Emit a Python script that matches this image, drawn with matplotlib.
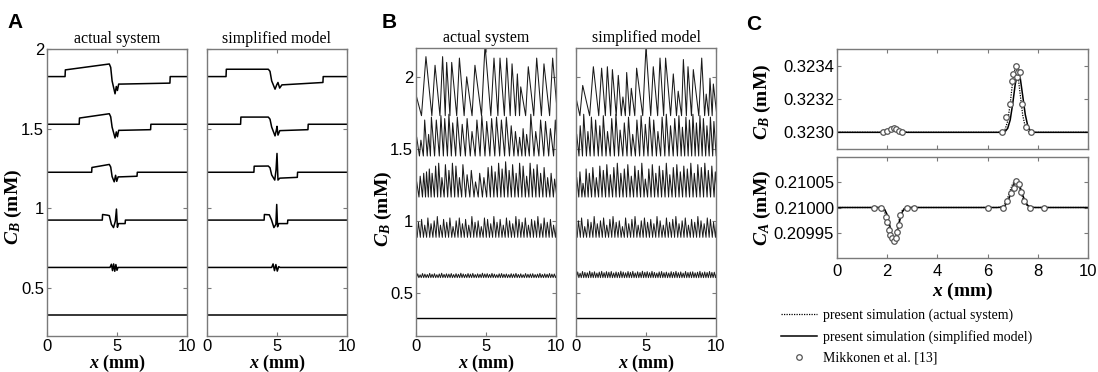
import numpy as np
import matplotlib
matplotlib.use('Agg')
import matplotlib.pyplot as plt
from matplotlib.lines import Line2D

plt.rcParams['font.family'] = 'Liberation Sans'
plt.rcParams['mathtext.fontset'] = 'custom'
plt.rcParams['mathtext.rm'] = 'Liberation Serif:bold'
plt.rcParams['mathtext.it'] = 'Liberation Serif:italic:bold'
plt.rcParams['mathtext.bf'] = 'Liberation Serif:bold'

SPINE = '#7a7a7a'

# ---------------- panel A: traces (x in mm, C_B in mM) ----------------
a_act_x = [
    [0, 10],
    [0, 4.5, 4.6, 4.68, 4.76, 4.84, 4.92, 5.0, 5.07, 10],
    [0, 3.95, 3.97, 4.3, 4.45, 4.6, 4.75, 4.88, 4.96, 5.03, 5.1, 5.58, 5.6, 10],
    [0, 3.19, 3.21, 4.45, 4.55, 4.65, 4.8, 4.9, 4.98, 5.08, 5.2, 6.43, 6.45, 10],
    [0, 2.3, 2.32, 4.45, 4.55, 4.65, 4.86, 4.95, 5.03, 5.12, 5.3, 7.4, 7.42, 10],
    [0, 1.29, 1.31, 4.45, 4.55, 4.65, 4.86, 4.95, 5.03, 5.12, 5.3, 8.78, 8.8, 10],
]
a_act_y = [
    [0.331, 0.331],
    [0.63, 0.63, 0.65, 0.61, 0.652, 0.606, 0.648, 0.612, 0.63, 0.63],
    [0.927, 0.927, 0.962, 0.958, 0.955, 0.90, 0.88, 0.92, 0.996, 0.882, 0.905, 0.905, 0.927, 0.927],
    [1.227, 1.227, 1.257, 1.276, 1.26, 1.20, 1.167, 1.208, 1.17, 1.198, 1.198, 1.202, 1.227, 1.227],
    [1.528, 1.528, 1.567, 1.594, 1.575, 1.51, 1.442, 1.48, 1.45, 1.49, 1.49, 1.494, 1.528, 1.528],
    [1.827, 1.827, 1.869, 1.906, 1.885, 1.80, 1.719, 1.765, 1.74, 1.78, 1.78, 1.786, 1.827, 1.827],
]
a_sim_x = [
    [0, 10],
    [0, 4.62, 4.72, 4.82, 4.92, 5.02, 5.12, 5.22, 10],
    [0, 4.08, 4.1, 4.45, 4.6, 4.78, 4.92, 4.98, 5.04, 5.12, 5.75, 5.77, 10],
    [0, 3.35, 3.37, 4.38, 4.5, 4.62, 4.84, 4.93, 5.0, 5.07, 5.2, 6.45, 6.47, 10],
    [0, 2.4, 2.42, 4.38, 4.5, 4.62, 4.86, 4.95, 5.0, 5.07, 5.2, 7.21, 7.23, 10],
    [0, 1.36, 1.38, 4.38, 4.5, 4.62, 4.86, 4.98, 5.07, 5.19, 5.35, 8.28, 8.3, 10],
]
a_sim_y = [
    [0.331, 0.331],
    [0.63, 0.63, 0.652, 0.61, 0.648, 0.607, 0.635, 0.63, 0.63],
    [0.927, 0.927, 0.962, 0.96, 0.93, 0.88, 0.9, 1.025, 0.885, 0.905, 0.905, 0.927, 0.927],
    [1.227, 1.227, 1.265, 1.266, 1.255, 1.21, 1.178, 1.24, 1.345, 1.178, 1.19, 1.195, 1.227, 1.227],
    [1.528, 1.528, 1.573, 1.573, 1.56, 1.51, 1.455, 1.49, 1.515, 1.46, 1.488, 1.494, 1.528, 1.528],
    [1.827, 1.827, 1.873, 1.873, 1.86, 1.80, 1.748, 1.775, 1.79, 1.755, 1.775, 1.79, 1.827, 1.827],
]

# ---------------- panel B: spike peaks (position, height) and trough level ----------------
b_base = [0.323, 0.605, 0.885, 1.165, 1.45, 1.73]

b5_act_x = [-0.2, 0.71, 1.36, 1.9, 2.19, 2.55, 3.1, 3.62, 4.21, 4.93, 5.57, 6.0, 6.48, 6.86, 7.24,
            7.48, 8.02, 8.62, 9.14, 9.76, 10.3]
b5_act_h = [1.95, 2.14, 2.08, 2.14, 2.10, 2.10, 2.13, 2.0, 2.08, 2.22, 2.13, 2.13, 2.13, 2.09, 2.02,
            1.93, 2.07, 2.13, 2.09, 2.13, 2.0]
b4_act_x = [0.05, 0.35, 0.62, 0.9, 1.1, 1.45, 1.78, 2.05, 2.35, 2.62, 2.95, 3.3, 3.65, 4.0, 4.35, 4.7,
            5.05, 5.4, 5.75, 6.1, 6.45, 6.8, 7.1, 7.4, 7.65, 7.9, 8.2, 8.55, 8.9, 9.25, 9.6, 9.95, 10.25]
b4_act_h = [1.58, 1.56, 1.70, 1.60, 1.72, 1.70, 1.73, 1.71, 1.74, 1.68, 1.72, 1.67, 1.71, 1.62, 1.70,
            1.73, 1.69, 1.71, 1.72, 1.70, 1.72, 1.66, 1.62, 1.58, 1.64, 1.60, 1.74, 1.62, 1.70, 1.69,
            1.64, 1.70, 1.66]
b3_act_x = [0.05, 0.3, 0.55, 0.75, 0.95, 1.15, 1.4, 1.62, 1.85, 2.1, 2.35, 2.6, 2.85, 3.1, 3.35, 3.65,
            3.95, 4.25, 4.55, 4.85, 5.15, 5.4, 5.65, 5.9, 6.15, 6.4, 6.65, 6.9, 7.15, 7.4, 7.65, 7.9,
            8.15, 8.4, 8.65, 8.9, 9.15, 9.4, 9.65, 9.9, 10.15]
b3_act_h = [1.27, 1.31, 1.33, 1.34, 1.36, 1.33, 1.38, 1.40, 1.30, 1.39, 1.35, 1.40, 1.38, 1.30, 1.39,
            1.32, 1.35, 1.27, 1.33, 1.30, 1.37, 1.38, 1.34, 1.40, 1.36, 1.41, 1.35, 1.39, 1.33, 1.40,
            1.38, 1.31, 1.40, 1.36, 1.39, 1.33, 1.37, 1.30, 1.33, 1.29, 1.32]
b2_act_h = [0.96, 0.99, 1.01, 0.97, 1.02, 0.98, 1.00, 1.03, 0.97, 1.01, 0.99, 1.02, 0.96, 1.00, 1.02,
            0.98, 1.01, 0.97, 1.03, 0.99, 1.00, 0.96, 1.02, 1.01, 0.98, 1.03, 0.99, 1.01, 0.97, 1.02,
            1.00, 0.98, 1.03, 1.01, 0.99, 1.02, 0.97, 1.01, 1.00, 1.03, 0.98, 1.02, 0.99, 1.01, 0.97, 1.00]
b1_act_h = [0.628, 0.632, 0.625, 0.634, 0.630, 0.627, 0.635, 0.629, 0.633, 0.626, 0.631, 0.636, 0.628,
            0.632, 0.630, 0.634, 0.627, 0.633, 0.629, 0.636, 0.631, 0.628, 0.634, 0.630, 0.635, 0.627,
            0.632, 0.629, 0.636, 0.631, 0.633, 0.628, 0.635, 0.630, 0.626, 0.632, 0.634, 0.629, 0.631,
            0.627, 0.633, 0.630, 0.635, 0.628, 0.632, 0.626, 0.634, 0.629, 0.631, 0.633, 0.627, 0.630,
            0.635, 0.628, 0.632, 0.629, 0.634, 0.630, 0.631, 0.628]

b5_sim_x = [-0.1, 0.48, 1.24, 1.83, 2.24, 2.6, 3.02, 3.35, 3.62, 3.95, 4.33, 5.0, 5.52, 6.0, 6.4, 6.95,
            7.3, 7.67, 8.0, 8.38, 8.98, 9.3, 9.57, 9.81, 10.2]
b5_sim_h = [1.90, 1.94, 2.07, 2.06, 2.07, 2.05, 2.01, 1.86, 2.03, 1.92, 2.06, 2.21, 2.07, 2.13, 2.13,
            2.02, 1.90, 2.12, 2.07, 2.05, 2.13, 1.88, 1.99, 1.95, 1.9]
b4_sim_x = [0.05, 0.3, 0.55, 0.85, 1.1, 1.4, 1.7, 1.95, 2.25, 2.55, 2.85, 3.15, 3.45, 3.75, 4.05, 4.35,
            4.65, 4.95, 5.25, 5.55, 5.85, 6.15, 6.45, 6.75, 7.05, 7.35, 7.6, 7.85, 8.1, 8.35, 8.6, 8.85,
            9.1, 9.35, 9.6, 9.85, 10.1]
b4_sim_h = [1.60, 1.66, 1.74, 1.62, 1.72, 1.70, 1.66, 1.73, 1.62, 1.71, 1.74, 1.63, 1.68, 1.72, 1.60,
            1.70, 1.73, 1.67, 1.72, 1.70, 1.62, 1.72, 1.74, 1.66, 1.71, 1.73, 1.65, 1.72, 1.70, 1.74,
            1.68, 1.73, 1.71, 1.66, 1.72, 1.69, 1.7]
b3_sim_x = [0.05, 0.28, 0.5, 0.72, 0.95, 1.2, 1.45, 1.7, 1.95, 2.2, 2.45, 2.7, 2.95, 3.2, 3.45, 3.7,
            3.95, 4.2, 4.45, 4.7, 4.95, 5.2, 5.45, 5.7, 5.95, 6.2, 6.45, 6.7, 6.95, 7.2, 7.45, 7.7,
            7.95, 8.2, 8.45, 8.7, 8.95, 9.2, 9.45, 9.7, 9.95, 10.2]
b3_sim_h = [1.30, 1.34, 1.26, 1.36, 1.33, 1.37, 1.30, 1.38, 1.35, 1.39, 1.32, 1.37, 1.40, 1.33, 1.36,
            1.39, 1.31, 1.38, 1.35, 1.40, 1.29, 1.36, 1.39, 1.33, 1.38, 1.35, 1.40, 1.32, 1.37, 1.39,
            1.34, 1.38, 1.36, 1.40, 1.33, 1.39, 1.37, 1.40, 1.35, 1.38, 1.34, 1.3]
b2_sim_h = [0.97, 1.00, 1.02, 0.96, 1.01, 0.99, 1.03, 0.98, 1.00, 1.02, 0.97, 1.01, 1.03, 0.99, 1.00,
            0.96, 1.02, 0.98, 1.01, 1.03, 0.97, 1.00, 1.02, 0.99, 1.01, 0.98, 1.03, 1.00, 0.97, 1.02,
            0.99, 1.01, 1.03, 0.98, 1.00, 1.02, 0.97, 1.01, 0.99, 1.03, 1.00, 0.98, 1.02, 1.01, 0.99, 1.02]
b1_sim_h = [0.640, 0.645, 0.636, 0.648, 0.642, 0.639, 0.650, 0.641, 0.646, 0.637, 0.644, 0.649, 0.640,
            0.647, 0.643, 0.648, 0.638, 0.645, 0.641, 0.650, 0.644, 0.639, 0.648, 0.642, 0.649, 0.638,
            0.646, 0.641, 0.650, 0.643, 0.647, 0.640, 0.649, 0.642, 0.637, 0.645, 0.648, 0.640, 0.644,
            0.638, 0.647, 0.642, 0.649, 0.640, 0.645, 0.637, 0.648, 0.641, 0.644, 0.646, 0.639, 0.643,
            0.649, 0.640, 0.645, 0.641, 0.648, 0.642, 0.643, 0.640]

# ---------------- panel C ----------------
cb_base = 0.3230   # mM, deviations below in 1e-4 mM
cb_sol_x = [0, 1.7, 1.8, 1.9, 2.0, 2.1, 2.2, 2.3, 2.4, 2.5, 2.6, 2.7, 2.8,
            6.5, 6.6, 6.7, 6.8, 6.9, 7.0, 7.1, 7.2, 7.3, 7.4, 7.5, 7.6, 7.7, 7.8, 7.9, 10]
cb_sol_d = [0, 0, 0.02, 0.05, 0.11, 0.19, 0.24, 0.24, 0.19, 0.11, 0.05, 0.02, 0,
            0, 0.01, 0.05, 0.24, 0.74, 1.71, 2.88, 3.58, 3.26, 2.18, 1.07, 0.39, 0.10, 0.02, 0, 0]
cb_dot_x = [0, 1.7, 1.8, 1.9, 2.0, 2.1, 2.2, 2.3, 2.4, 2.5, 2.6, 2.7, 2.8,
            6.4, 6.5, 6.6, 6.7, 6.8, 6.9, 7.0, 7.1, 7.2, 7.3, 7.4, 7.5, 7.6, 7.7, 7.8, 10]
cb_dot_d = [0, 0, 0.02, 0.06, 0.12, 0.20, 0.25, 0.23, 0.17, 0.09, 0.04, 0.01, 0,
            0, 0.005, 0.04, 0.19, 0.67, 1.71, 3.08, 3.92, 3.54, 2.26, 1.02, 0.33, 0.07, 0.01, 0, 0]
cb_ref_x = [1.85, 1.99, 2.15, 2.26, 2.35, 2.46, 2.58,
            6.57, 6.72, 6.91, 6.97, 7.01, 7.12, 7.17, 7.21, 7.28, 7.37, 7.54, 7.74]
cb_ref_d = [0, 0.08, 0.2, 0.28, 0.2, 0.1, 0,
            0, 0.9, 1.7, 3.1, 3.5, 4.0, 3.3, 3.6, 3.6, 1.7, 0.3, 0]

ca_base = 0.21000  # mM, deviations below in 1e-5 mM
ca_sol_x = [0, 1.6, 1.7, 1.8, 1.9, 2.0, 2.1, 2.2, 2.3, 2.4, 2.5, 2.6, 2.7, 2.8, 2.9,
            6.4, 6.5, 6.6, 6.7, 6.8, 6.9, 7.0, 7.1, 7.2, 7.3, 7.4, 7.5, 7.6, 7.7, 7.8, 7.9, 10]
ca_sol_d = [0, 0, -0.01, -0.07, -0.39, -1.43, -3.5, -5.8, -6.55, -4.98, -2.57, -0.89, -0.21, -0.03, 0,
            0, 0.03, 0.12, 0.42, 1.15, 2.43, 4.0, 5.14, 5.14, 4.0, 2.43, 1.15, 0.42, 0.12, 0.03, 0, 0]
ca_dot_d = [0, 0, -0.03, -0.2, -0.9, -2.6, -4.9, -6.4, -6.2, -4.2, -1.9, -0.55, -0.1, -0.01, 0,
            0, 0.06, 0.25, 0.8, 1.9, 3.4, 4.7, 5.3, 4.8, 3.4, 1.9, 0.8, 0.25, 0.06, 0.01, 0, 0]
ca_ref_x = [1.46, 1.75, 1.94, 1.99, 2.06, 2.12, 2.18, 2.26, 2.35, 2.39, 2.46, 2.52, 2.79, 3.08,
            6.02, 6.61, 6.77, 6.95, 7.04, 7.14, 7.25, 7.34, 7.46, 7.70, 8.26]
ca_ref_d = [0, 0, -1.8, -2.8, -4.5, -5.5, -6.0, -6.6, -6.0, -4.8, -3.5, -1.5, 0, 0,
            0, 0, 1.3, 2.9, 3.9, 5.3, 4.7, 3.0, 1.2, 0, 0]


def spike_line(px, ph, base, f=0.65):
    # peaks joined through troughs at the base level
    xs, ys = [px[0]], [ph[0]]
    for i in range(1, len(px)):
        xs += [px[i - 1] + f * (px[i] - px[i - 1]), px[i]]
        ys += [base, ph[i]]
    return xs, ys


def style_axes(ax):
    for s in ax.spines.values():
        s.set_color(SPINE)
        s.set_linewidth(1.0)
    ax.tick_params(direction='in', top=True, right=True, length=3, width=0.8,
                   color=SPINE, labelsize=12, pad=2)


W, H = 1098, 372
fig = plt.figure(figsize=(W / 100, H / 100), dpi=100)


def rect(x0, x1, y0, y1):
    return [x0 / W, 1 - y1 / H, (x1 - x0) / W, (y1 - y0) / H]


serif = dict(family='Liberation Serif')
lab = dict(family='Liberation Serif', weight='bold', fontsize=14)
xlab = dict(family='Liberation Serif', weight='bold', fontsize=13)
TRACE = '#1a1a1a'

# panel A
for k, (xs_all, ys_all, title) in enumerate([(a_act_x, a_act_y, 'actual system'),
                                              (a_sim_x, a_sim_y, 'simplified model')]):
    x0 = 47 + 160 * k
    ax = fig.add_axes(rect(x0, x0 + 140, 49, 336))
    for xs, ys in zip(xs_all, ys_all):
        ax.plot(xs, ys, color='black', lw=1.1)
    ax.set_xlim(0, 10)
    ax.set_ylim(0.2, 2.0)
    ax.set_xticks([0, 5, 10])
    ax.set_yticks([0.5, 1, 1.5, 2])
    style_axes(ax)
    if k == 0:
        ax.set_yticklabels(['0.5', '1', '1.5', '2'])
        ax.set_ylabel(r'$C_B$ (mM)', **lab)
        ax.yaxis.set_label_coords(-0.165, 0.45)
    else:
        ax.set_yticklabels([])
    ax.set_title(title, fontsize=11.5, pad=4, **serif)
    ax.set_xlabel(r'$x$ (mm)', labelpad=-1, **xlab)

# panel B
b_act = [(b5_act_x, b5_act_h), (b4_act_x, b4_act_h), (b3_act_x, b3_act_h)]
b_sim = [(b5_sim_x, b5_sim_h), (b4_sim_x, b4_sim_h), (b3_sim_x, b3_sim_h)]
for k, (big, h2, h1, title) in enumerate([(b_act, b2_act_h, b1_act_h, 'actual system'),
                                           (b_sim, b2_sim_h, b1_sim_h, 'simplified model')]):
    x0 = 416 + 160 * k
    ax = fig.add_axes(rect(x0, x0 + 140, 48, 336))
    ax.plot([0, 10], [b_base[0], b_base[0]], color='black', lw=1.0)
    xs, ys = spike_line(np.linspace(-0.05, 10.05, len(h1)), h1, b_base[1], f=0.5)
    ax.plot(xs, ys, color=TRACE, lw=0.7)
    xs, ys = spike_line(np.linspace(-0.05, 10.05, len(h2)), h2, b_base[2], f=0.6)
    ax.plot(xs, ys, color=TRACE, lw=0.7)
    for (px, ph), base in zip(big[::-1], b_base[3:]):
        xs, ys = spike_line(px, ph, base)
        ax.plot(xs, ys, color=TRACE, lw=0.75)
    ax.set_xlim(0, 10)
    ax.set_ylim(0.2, 2.2)
    ax.set_xticks([0, 5, 10])
    ax.set_yticks([0.5, 1, 1.5, 2])
    style_axes(ax)
    if k == 0:
        ax.set_yticklabels(['0.5', '1', '1.5', '2'])
        ax.set_ylabel(r'$C_B$ (mM)', **lab)
        ax.yaxis.set_label_coords(-0.155, 0.44)
    else:
        ax.set_yticklabels([])
    ax.set_title(title, fontsize=11.5, pad=4, **serif)
    ax.set_xlabel(r'$x$ (mm)', labelpad=-1, **xlab)

# panel C
dotted = (0, (1, 1))
axt = fig.add_axes(rect(837, 1088, 49, 149))
axt.plot(cb_dot_x, cb_base + np.array(cb_dot_d) * 1e-4, color='black', lw=0.9, ls=dotted)
axt.plot(cb_sol_x, cb_base + np.array(cb_sol_d) * 1e-4, color='black', lw=1.1)
axt.plot(cb_ref_x, cb_base + np.array(cb_ref_d) * 1e-4, 'o', ms=4, mfc='white', mec='#555555', mew=0.9)
axt.set_xlim(0, 10)
axt.set_ylim(0.3229, 0.32350)
axt.set_xticks([0, 2, 4, 6, 8, 10])
axt.set_xticklabels([])
axt.set_yticks([0.3230, 0.3232, 0.3234])
axt.set_yticklabels(['0.3230', '0.3232', '0.3234'])
style_axes(axt)
axt.set_ylabel(r'$C_B$ (mM)', **lab)
axt.yaxis.set_label_coords(-0.255, 0.47)

axb = fig.add_axes(rect(837, 1088, 157, 258))
axb.plot(ca_sol_x, ca_base + np.array(ca_dot_d) * 1e-5, color='black', lw=0.9, ls=dotted)
axb.plot(ca_sol_x, ca_base + np.array(ca_sol_d) * 1e-5, color='black', lw=1.1)
axb.plot(ca_ref_x, ca_base + np.array(ca_ref_d) * 1e-5, 'o', ms=4, mfc='white', mec='#555555', mew=0.9)
axb.set_xlim(0, 10)
axb.set_ylim(0.2099, 0.2101)
axb.set_xticks([0, 2, 4, 6, 8, 10])
axb.set_yticks([0.20995, 0.21000, 0.21005])
axb.set_yticklabels(['0.20995', '0.21000', '0.21005'])
style_axes(axb)
axb.tick_params(axis='x', pad=4)
axb.set_ylabel(r'$C_A$ (mM)', **lab)
axb.yaxis.set_label_coords(-0.255, 0.5)
axb.set_xlabel(r'$x$ (mm)', labelpad=2, **lab)

handles = [Line2D([], [], color='black', lw=0.9, ls=dotted),
           Line2D([], [], color='black', lw=1.1),
           Line2D([], [], ls='none', marker='o', ms=4, mfc='white', mec='#555555', mew=0.9)]
labels = ['present simulation (actual system)', 'present simulation (simplified model)',
          'Mikkonen et al. [13]']
fig.legend(handles, labels, loc='upper left', bbox_to_anchor=(781 / W, 1 - 309 / H),
           frameon=False, handlelength=2.6, handletextpad=0.4, labelspacing=0.55,
           borderpad=0, borderaxespad=0, prop=dict(family='Liberation Serif', size=10))

fig.text(7 / W, 1 - 22 / H, 'A', fontsize=15, weight='bold', va='center', ha='left')
fig.text(382 / W, 1 - 22 / H, 'B', fontsize=15, weight='bold', va='center', ha='left')
fig.text(746 / W, 1 - 25 / H, 'C', fontsize=15, weight='bold', va='center', ha='left')

fig.savefig('out.png', dpi=100)
